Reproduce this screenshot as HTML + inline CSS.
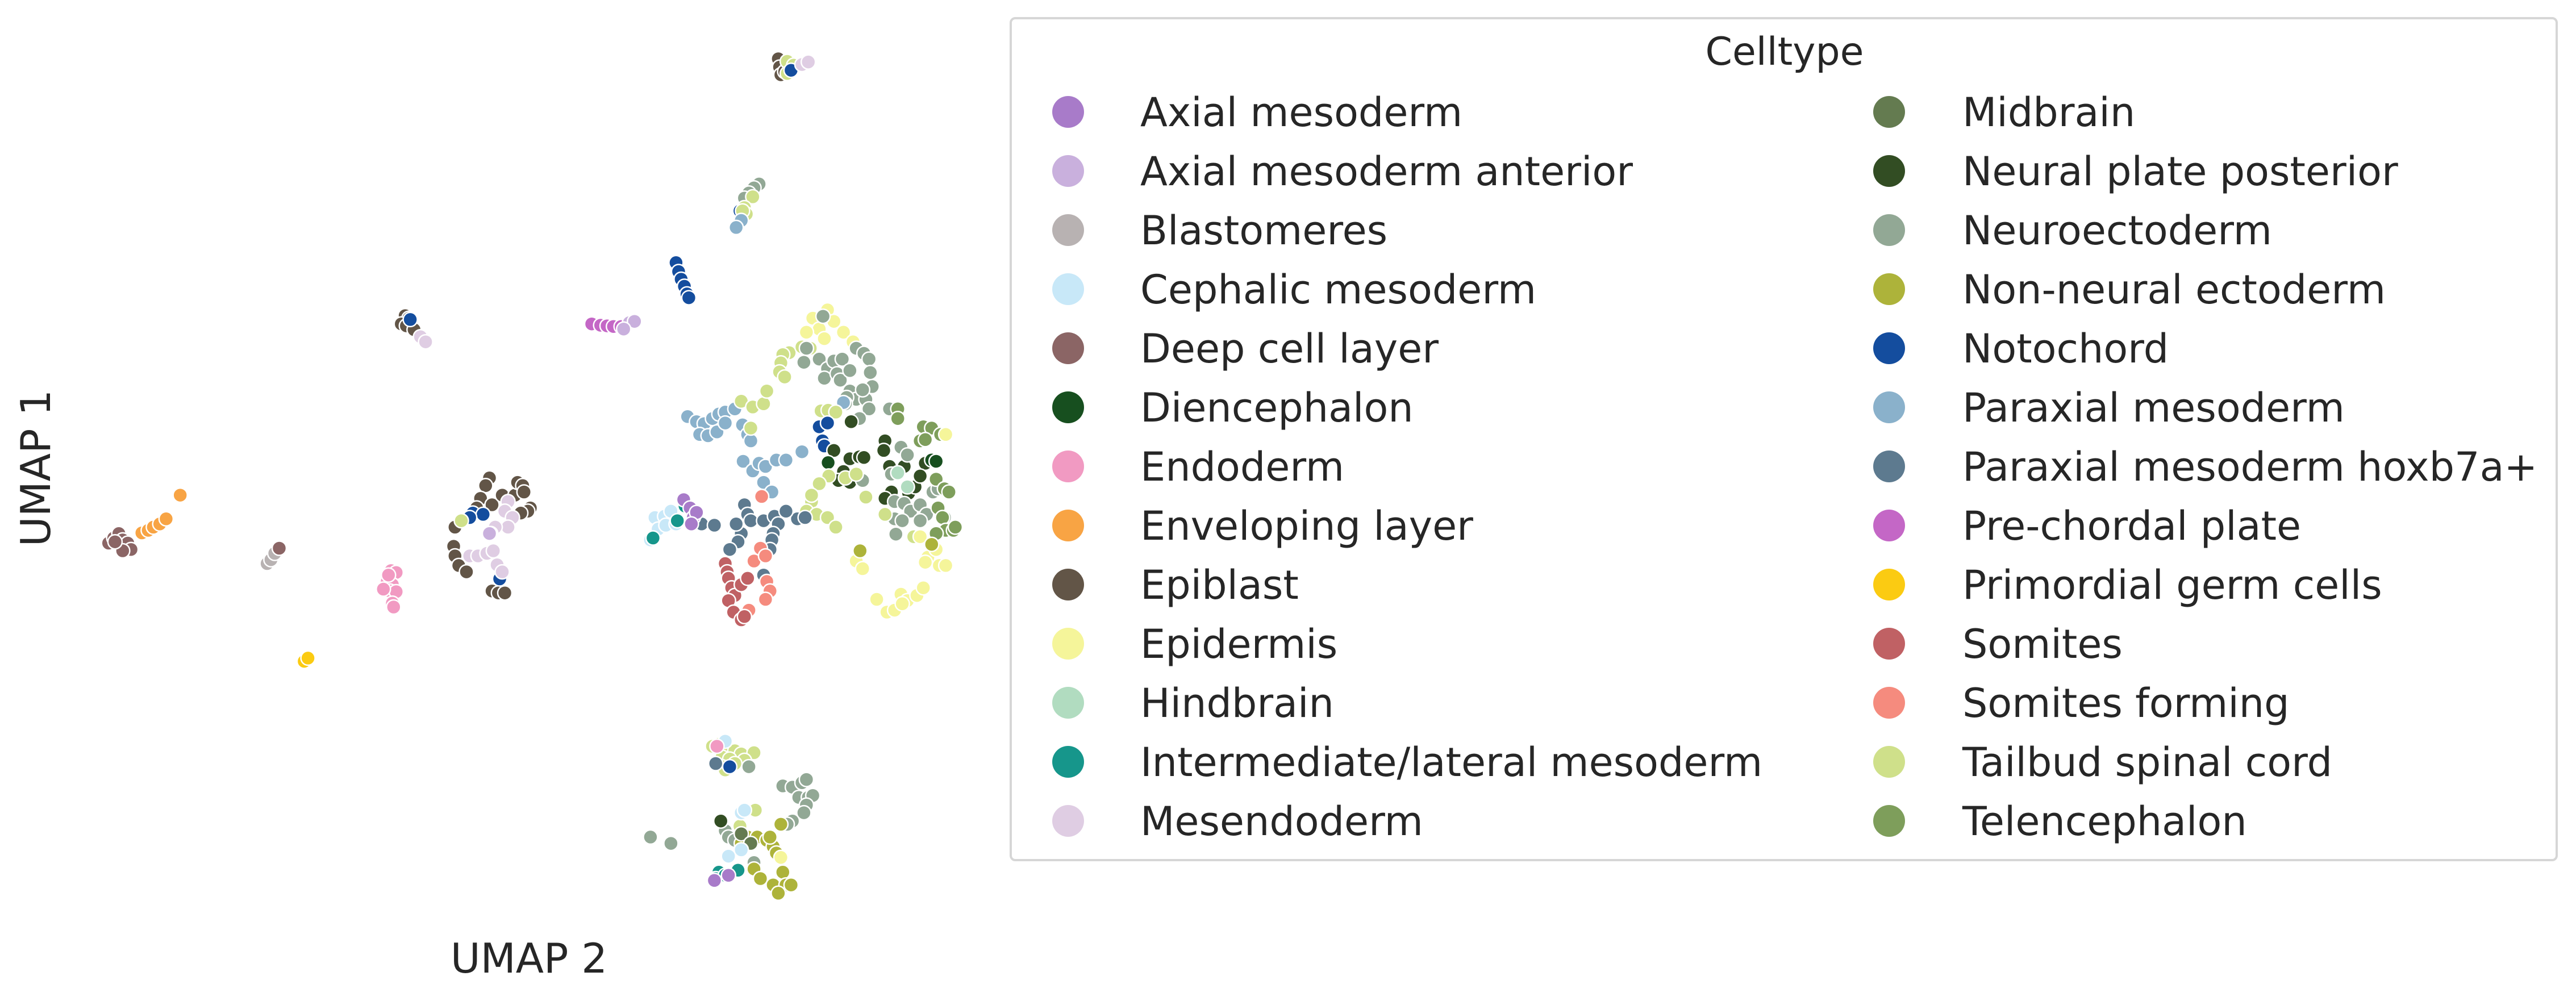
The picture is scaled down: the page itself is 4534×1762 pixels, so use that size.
<!DOCTYPE html>
<html><head><meta charset="utf-8"><style>
html,body{margin:0;padding:0;background:#fff;}
svg{display:block;}
text{font-family:"DejaVu Sans","Liberation Sans",sans-serif;fill:#262626;}
</style></head><body>
<svg id="chart" width="4534" height="1762" viewBox="0 0 4534 1762" xmlns="http://www.w3.org/2000/svg">
<g id="points"></g>
<text x="931" y="1712" font-size="72" text-anchor="middle">UMAP 2</text>
<text x="0" y="0" font-size="72" text-anchor="middle" transform="translate(88,824) rotate(-90)">UMAP 1</text>
<g id="legend">
<rect x="1779" y="32" width="2721" height="1482" rx="8" fill="#fff" stroke="#d6d6d6" stroke-width="4"/>
<text x="3141" y="114" font-size="68" text-anchor="middle">Celltype</text>
</g>
</svg>
<script>
const categories=["Axial mesoderm","Axial mesoderm anterior","Blastomeres","Cephalic mesoderm","Deep cell layer","Diencephalon","Endoderm","Enveloping layer","Epiblast","Epidermis","Hindbrain","Intermediate/lateral mesoderm","Mesendoderm","Midbrain","Neural plate posterior","Neuroectoderm","Non-neural ectoderm","Notochord","Paraxial mesoderm","Paraxial mesoderm hoxb7a+","Pre-chordal plate","Primordial germ cells","Somites","Somites forming","Tailbud spinal cord","Telencephalon"];
const colors=["#a87bc9","#c9b0dd","#b8b2b2","#c8e8f8","#8b6565","#174f1f","#f19ac2","#f8a444","#625547","#f5f59a","#b1dcc0","#16968b","#dfcde3","#647b50","#324d23","#92a895","#adb33a","#144d9e","#8ab1cb","#5d7a8f","#c467c6","#fbcb12","#c06164","#f58b7e","#cfe08a","#7e9e5b"];
const pointData=[
[1218,92,8],[1220,105,8],[1222,117,8],[1228,112,8],[1232,96,24],[1242,102,24],[1232,115,24],[1238,110,17],[1255,101,12],[1265,97,12],
[1188,288,15],[1180,294,15],[1172,302,15],[1165,310,15],[1178,308,24],[1158,330,17],[1165,325,24],[1168,335,24],[1162,330,24],[1160,345,18],[1152,356,18],
[1058,411,17],[1062,425,17],[1066,437,17],[1071,448,17],[1075,460,17],[1078,466,17],
[926,507,20],[940,509,20],[950,510,20],[960,511,20],[972,511,20],[985,505,1],[993,503,1],[976,515,1],
[634,494,8],[640,498,8],[628,507,8],[636,510,8],[648,516,8],[642,500,17],[658,527,12],[666,535,12],
[170,850,4],[178,842,4],[186,835,4],[192,845,4],[200,850,4],[205,860,4],[192,862,4],[180,848,4],
[222,834,7],[232,830,7],[240,825,7],[250,820,7],[260,812,7],[282,775,7],
[418,882,2],[424,876,2],[430,866,2],[437,858,4],
[476,1035,21],[482,1030,21],
[612,893,6],[620,896,6],[606,910,6],[614,915,6],[610,925,6],[620,926,6],[600,922,6],[614,944,6],[616,950,6],[608,900,6],
[766,748,8],[760,760,8],[752,780,8],[746,795,8],[770,790,8],[786,775,8],[806,775,8],[810,755,8],[818,760,8],[820,770,8],[830,795,8],[826,800,8],[815,803,8],[712,825,8],[710,855,8],[712,870,8],[718,885,8],[730,895,8],[770,925,8],[780,928,8],[790,928,8],
[740,803,17],[756,805,17],[782,906,17],[735,810,17],[722,815,24],
[795,785,12],[790,800,12],[802,810,12],[795,825,12],[775,825,12],[768,835,12],[735,870,12],[748,870,12],[762,866,12],[772,862,12],[778,884,12],[786,895,12],[766,835,1],
[1295,485,9],[1272,498,9],[1282,515,9],[1305,503,9],[1320,520,9],[1262,520,9],[1290,530,9],[1335,535,9],
[1235,552,24],[1225,555,24],[1255,543,24],[1222,568,24],[1220,582,24],[1228,590,24],[1268,545,24],
[1288,495,15],[1262,545,15],[1258,567,15],[1282,562,15],[1295,577,15],[1305,565,15],[1318,562,15],[1340,545,15],[1352,553,15],[1360,562,15],[1290,592,15],[1310,585,15],[1315,595,15],[1330,612,15],[1340,625,15],[1355,625,15],[1365,605,15],[1350,610,15],[1330,580,15],[1362,583,15],[1325,622,15],[1360,640,15],[1345,655,15],[1323,632,15],
[1076,652,18],[1090,660,18],[1102,663,18],[1115,655,18],[1125,648,18],[1135,645,18],[1095,680,18],[1108,682,18],[1122,676,18],[1135,662,18],[1150,640,18],[1162,665,18],[1170,680,18],[1175,690,18],[1163,722,18],[1178,737,18],[1188,725,18],[1198,730,18],[1215,720,18],[1230,720,18],[1255,707,18],[1195,755,18],[1208,770,18],[1320,630,18],
[1160,628,24],[1178,637,24],[1195,632,24],[1200,612,24],[1175,670,24],[1285,643,24],[1296,642,24],[1308,645,24],
[1282,668,17],[1295,662,17],[1287,690,17],[1290,698,17],
[1332,660,14],[1305,705,14],[1330,718,14],[1345,715,14],[1352,716,14],[1385,690,14],[1383,705,14],[1392,730,14],[1415,730,14],[1448,725,14],[1320,738,14],[1312,752,14],[1330,755,14],[1395,770,14],[1422,772,14],[1432,762,14],[1440,745,14],[1385,780,14],
[1458,720,5],[1465,722,5],[1296,724,5],
[1392,640,15],[1410,700,15],[1420,712,15],[1395,742,15],[1350,752,15],[1400,785,15],[1415,788,15],[1425,800,15],[1440,790,15],[1450,805,15],[1460,770,15],[1468,765,15],[1400,812,15],[1412,815,15],[1440,815,15],[1478,810,15],[1402,836,15],
[1405,640,25],[1405,655,25],[1445,668,25],[1458,670,25],[1472,680,25],[1440,690,25],[1448,688,25],[1465,750,25],[1478,765,25],[1485,770,25],[1468,795,25],[1475,810,25],[1480,830,25],[1492,830,25],[1465,835,25],[1495,825,25],
[1297,745,24],[1282,757,24],[1323,748,24],[1340,742,24],[1270,785,24],[1262,800,24],[1278,805,24],[1295,810,24],[1308,825,24],[1385,805,24],[1355,778,24],[1270,775,24],[1430,840,24],
[1405,740,10],[1420,762,10],
[1440,840,9],[1452,872,9],[1465,860,9],[1448,880,9],[1470,885,9],[1480,885,9],[1340,878,9],[1350,890,9],[1372,938,9],[1388,958,9],[1400,955,9],[1410,930,9],[1420,940,9],[1435,932,9],[1445,920,9],[1412,945,9],[1480,680,9],
[1346,862,16],[1458,852,16],
[1098,820,19],[1118,822,19],[1165,790,19],[1170,805,19],[1175,815,19],[1160,835,19],[1155,848,19],[1142,860,19],[1195,815,19],[1212,808,19],[1218,820,19],[1210,835,19],[1208,845,19],[1205,860,19],[1195,900,19],[1248,812,19],[1260,810,19],[1230,800,19],[1152,820,19],
[1025,810,3],[1040,808,3],[1050,800,3],[1030,828,3],[1042,822,3],[1058,820,3],[1018,845,3],
[1072,792,11],[1060,815,11],[1022,842,11],
[1070,782,0],[1080,795,0],[1085,810,0],[1090,802,0],[1082,820,0],
[1192,777,23],[1180,878,23],[1190,858,23],[1198,870,23],[1200,910,23],[1205,925,23],[1198,938,23],[1172,955,23],
[1135,882,22],[1138,895,22],[1140,905,22],[1145,920,22],[1150,932,22],[1160,915,22],[1170,905,22],[1140,940,22],[1148,958,22],[1160,970,22],[1165,965,22],
[1115,1168,24],[1125,1165,24],[1140,1170,24],[1150,1175,24],[1160,1180,24],[1180,1178,24],[1130,1185,24],[1142,1188,24],[1165,1190,24],[1130,1200,24],[1135,1205,24],[1150,1195,24],[1182,1268,24],[1158,1293,24],
[1120,1195,19],[1142,1200,17],[1135,1160,3],[1122,1168,6],
[1225,1230,15],[1240,1232,15],[1255,1225,15],[1262,1220,15],[1250,1248,15],[1265,1248,15],[1272,1245,15],[1262,1260,15],[1258,1272,15],[1240,1285,15],[1232,1290,15],[1130,1285,15],[1135,1300,15],[1140,1310,15],[1150,1315,15],[1018,1310,15],[1050,1320,15],[1172,1200,15],[1180,1350,15],
[1222,1290,16],[1170,1310,16],[1185,1310,16],[1200,1315,16],[1210,1325,16],[1215,1335,16],[1180,1360,16],[1190,1375,16],[1210,1385,16],[1225,1365,16],[1230,1385,16],[1238,1385,16],[1218,1398,16],[1160,1320,16],[1205,1310,16],
[1160,1305,13],[1175,1320,13],
[1160,1272,3],[1165,1268,3],[1140,1340,3],[1160,1330,3],
[1125,1365,11],[1120,1375,11],[1135,1370,11],[1155,1362,11],
[1118,1378,0],[1140,1370,0],[1222,1342,9],[1128,1285,14]
];
const pointX=pointData.map(p=>p[0]);
const pointY=pointData.map(p=>p[1]);
const pointType=pointData.map(p=>p[2]);
const NS="http://www.w3.org/2000/svg";
function xScale(v){return v*1.1247;}
function yScale(v){return v*1.1247;}
const g=document.getElementById('points');
for(let i=0;i<pointX.length;i++){
  const c=document.createElementNS(NS,'circle');
  c.setAttribute('cx',xScale(pointX[i]).toFixed(1));
  c.setAttribute('cy',yScale(pointY[i]).toFixed(1));
  c.setAttribute('r','12.5');
  c.setAttribute('fill',colors[pointType[i]]);
  c.setAttribute('stroke','#fff');
  c.setAttribute('stroke-width','2.5');
  
  
  g.appendChild(c);
}
const lg=document.getElementById('legend');
for(let i=0;i<categories.length;i++){
  const col=i<13?0:1, row=i%13;
  const mx=col?3325:1880, tx=col?3454:2007, y=197+row*104;
  const e=document.createElementNS(NS,'g');
  
  
  const c=document.createElementNS(NS,'circle');
  c.setAttribute('cx',mx);c.setAttribute('cy',y);c.setAttribute('r','28');
  c.setAttribute('fill',colors[i]);
  
  
  const t=document.createElementNS(NS,'text');
  t.setAttribute('x',tx);t.setAttribute('y',y+25);t.setAttribute('font-size','70');
  t.textContent=categories[i];
  
  
  e.appendChild(c);e.appendChild(t);lg.appendChild(e);
}
</script>
</body></html>
